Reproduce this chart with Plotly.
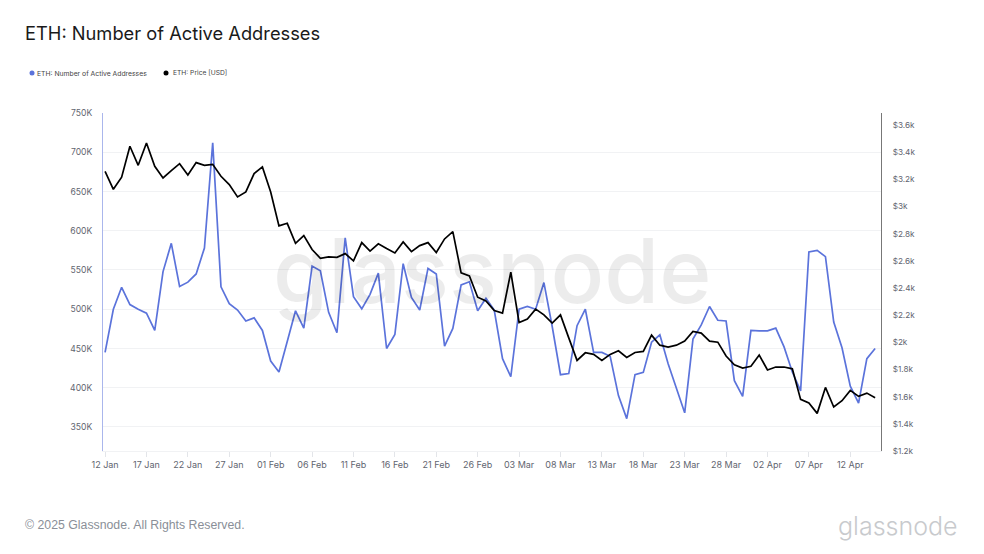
import plotly.graph_objects as go
import pandas as pd

dates = pd.date_range("2025-01-12", "2025-04-15", freq="D")

active_addresses_k = [
    445, 500, 528, 506, 500, 495, 473, 548, 584, 529, 534.5, 545, 578, 712, 528.5, 507,
    499, 485, 489, 473, 434, 420, 459, 498, 476, 555, 549, 496, 470, 591, 516, 500.5,
    519, 546, 450, 468, 558, 515, 499, 552, 545, 453, 475.5, 531, 535, 498, 514, 499,
    437, 414, 500, 503.5, 500, 534, 478, 416.6, 418, 479, 500, 445, 445, 440, 390, 360.6,
    416.6, 419.5, 458, 467.5, 430.6, 400, 368, 462, 480, 503.5, 486, 485, 409, 389,
    473, 472.5, 472.5, 476, 452, 420, 396, 573, 575, 567, 483.6, 451, 402, 380.5, 437, 450,
]
price_usd = [
    3259, 3126, 3215, 3443, 3303, 3467, 3296, 3210, 3264, 3315, 3232, 3323, 3303, 3310, 3222, 3161,
    3070, 3107, 3242, 3291, 3107, 2857, 2876, 2729, 2786, 2683, 2619, 2629, 2626, 2653, 2600, 2734,
    2671, 2725, 2690, 2658, 2739, 2668, 2712, 2734, 2661, 2761, 2815, 2511, 2489, 2332, 2305, 2234,
    2215, 2516, 2146, 2171, 2244, 2202, 2141, 2202, 2033, 1867, 1923, 1911, 1867, 1911, 1938, 1889,
    1925, 1933, 2053, 1979, 1965, 1979, 2009, 2080, 2068, 2009, 2001, 1899, 1835, 1810,
    1823, 1906, 1796, 1818, 1818, 1805, 1580, 1553, 1477, 1668, 1524, 1570, 1646, 1602, 1626, 1592,
]
x_tick_dates = dates[::5]
x_tick_labels = [d.strftime("%d %b") for d in x_tick_dates]
left_ticks = [350, 400, 450, 500, 550, 600, 650, 700, 750]
left_labels = [f"{v}K" for v in left_ticks]
right_ticks = [1200, 1400, 1600, 1800, 2000, 2200, 2400, 2600, 2800, 3000, 3200, 3400, 3600]
right_labels = ["$1.2k", "$1.4k", "$1.6k", "$1.8k", "$2k", "$2.2k", "$2.4k", "$2.6k", "$2.8k", "$3k", "$3.2k", "$3.4k", "$3.6k"]
series_names = ["ETH: Number of Active Addresses", "ETH: Price [USD]"]

BLUE = "#5b73db"
BLACK = "#000000"
FONT = "Inter, 'Noto Sans', sans-serif"
TICK = "#5f6570"
W, H = 984, 554
L, R, T, B = 103, 881, 113, 451


def px(x):
    return (x - L) / (R - L)


def py(y):
    return (B - y) / (B - T)


fig = go.Figure()
fig.add_trace(go.Scatter(x=dates, y=active_addresses_k, mode="lines", name=series_names[0],
                         line=dict(color=BLUE, width=1.7), showlegend=False, yaxis="y"))
fig.add_trace(go.Scatter(x=dates, y=price_usd, mode="lines", name=series_names[1],
                         line=dict(color=BLACK, width=1.7), showlegend=False, yaxis="y2"))

shapes = []
for cx, color in [(32, BLUE), (166, BLACK)]:
    shapes.append(dict(type="circle", xref="paper", yref="paper", x0=px(cx - 2.5), x1=px(cx + 2.5),
                       y0=py(75.5), y1=py(70.5), fillcolor=color, line=dict(width=0)))

fig.update_layout(
    width=W, height=H, autosize=False,
    margin=dict(l=L, r=W - R, t=T, b=H - B),
    paper_bgcolor="white", plot_bgcolor="white",
    font=dict(family=FONT, color=TICK, size=9),
    showlegend=False,
    shapes=shapes,
    title=dict(text="ETH: Number of Active Addresses", x=25 / W, xanchor="left", xref="container",
               y=1 - 34 / H, yanchor="middle", yref="container",
               font=dict(family=FONT, size=18.3, color="#1a1a1a")),
    xaxis=dict(range=["2025-01-11 18:00", "2025-04-15 17:00"], tickmode="array",
               tickvals=list(x_tick_dates), ticktext=x_tick_labels,
               showgrid=False, zeroline=False, showline=True, linecolor="#f1f2f4", linewidth=1,
               ticks="outside", ticklen=5, tickcolor="#e3e5e9", tickwidth=1,
               tickfont=dict(size=9, color=TICK)),
    yaxis=dict(range=[319.4, 750], tickmode="array", tickvals=left_ticks, ticktext=left_labels,
               showgrid=True, gridcolor="#f1f2f4", gridwidth=1, zeroline=False,
               showline=True, linecolor="#aab6ec", linewidth=1,
               ticks="outside", ticklen=8, tickcolor="rgba(0,0,0,0)",
               tickfont=dict(size=8.6, color=TICK)),
    yaxis2=dict(range=[1200, 3688], overlaying="y", side="right", tickmode="array",
                tickvals=right_ticks, ticktext=right_labels, showgrid=False, zeroline=False,
                showline=True, linecolor="#777", linewidth=1,
                ticks="outside", ticklen=9, tickcolor="rgba(0,0,0,0)",
                tickfont=dict(size=8.2, color=TICK)),
    annotations=[
        dict(text=series_names[0], xref="paper", yref="paper", x=px(35), y=py(73), xanchor="left",
             yanchor="middle", showarrow=False, font=dict(size=6.8, color="#444")),
        dict(text=series_names[1], xref="paper", yref="paper", x=px(171), y=py(73), xanchor="left",
             yanchor="middle", showarrow=False, font=dict(size=6.7, color="#444")),
        dict(text="glassnode", xref="paper", yref="paper", x=px(492.5), y=py(270), xanchor="center", yanchor="middle",
             showarrow=False, font=dict(family=FONT, size=89, weight=500, color="rgba(0,0,0,0.075)")),
        dict(text="© 2025 Glassnode. All Rights Reserved.", xref="paper", yref="paper",
             x=px(23), y=py(525), xanchor="left", yanchor="middle",
             showarrow=False, font=dict(family="'Liberation Sans', Arial, sans-serif", size=12.3, color="#8a8f98")),
        dict(text="glassnode", xref="paper", yref="paper", x=px(960), y=py(526),
             xanchor="right", yanchor="middle", showarrow=False,
             font=dict(family=FONT, size=25, weight=300, color="#c8cacd")),
    ],
)
fig.write_html("out.html", config=dict(displayModeBar=False), post_script="document.body.style.margin='0';")
